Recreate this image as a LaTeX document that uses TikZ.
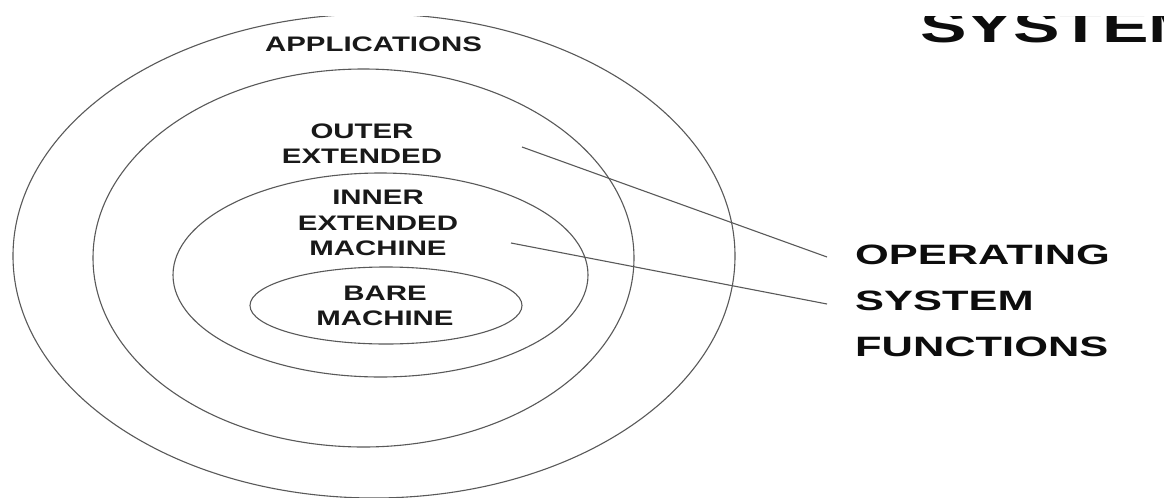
\documentclass[tikz,border=0pt]{standalone}
\usepackage{fontspec}
\setmainfont{Liberation Sans}
\usepackage{graphicx}
\newcommand\sxa[1]{\scalebox{1.4}[1]{#1}}
\newcommand\sxb[1]{\scalebox{1.55}[1]{#1}}
\begin{document}
\begin{tikzpicture}[x=1pt,y=-1pt,
  ring/.style={draw=black!65, line width=1.1pt},
  link/.style={draw=black!65, line width=1.1pt},
  lbl/.style={font=\bfseries\fontsize{21}{25.3}\selectfont, align=center, inner sep=0pt, text=black!90},
  big/.style={font=\bfseries\fontsize{28}{46.25}\selectfont, align=left, inner sep=0pt, anchor=west, text=black!95},
  head/.style={font=\bfseries\fontsize{45}{50}\selectfont, inner sep=0pt, anchor=base west, text=black!95}]
\useasboundingbox (0,0) rectangle (1173,498);
\fill[white] (0,0) rectangle (1173,498);
\begin{scope}
\clip (0,16) rectangle (1163,498);
% rings
\draw[ring] (374,256) ellipse [x radius=361pt, y radius=242pt];
\draw[ring] (363.5,258) ellipse [x radius=270.5pt, y radius=189pt];
\draw[ring] (380.5,275) ellipse [x radius=207.5pt, y radius=102pt];
\draw[ring] (386,305.5) ellipse [x radius=136pt, y radius=38.5pt];
% labels
\node[lbl] (app) at (373.5,44.5) {\sxa{APPLICATIONS}};
\node[lbl] (outer) at (362,144) {\sxa{OUTER}\\\sxa{EXTENDED}};
\node[lbl] (inner) at (378,223) {\sxa{INNER}\\\sxa{EXTENDED}\\\sxa{MACHINE}};
\node[lbl] (bare) at (385,306) {\sxa{BARE}\\\sxa{MACHINE}};
\node[big] (osf) at (855,301) {\sxb{OPERATING}\\\sxb{SYSTEM}\\\sxb{FUNCTIONS}};
\node[head] (sys) at (920,42) {\sxb{SYSTEM}};
% connectors
\coordinate (p1) at (522,147);
\coordinate (q1) at (827,257);
\coordinate (p2) at (511,243);
\coordinate (q2) at (827,304);
\draw[link] (p1) -- (q1);
\draw[link] (p2) -- (q2);
\end{scope}
\end{tikzpicture}
\end{document}
